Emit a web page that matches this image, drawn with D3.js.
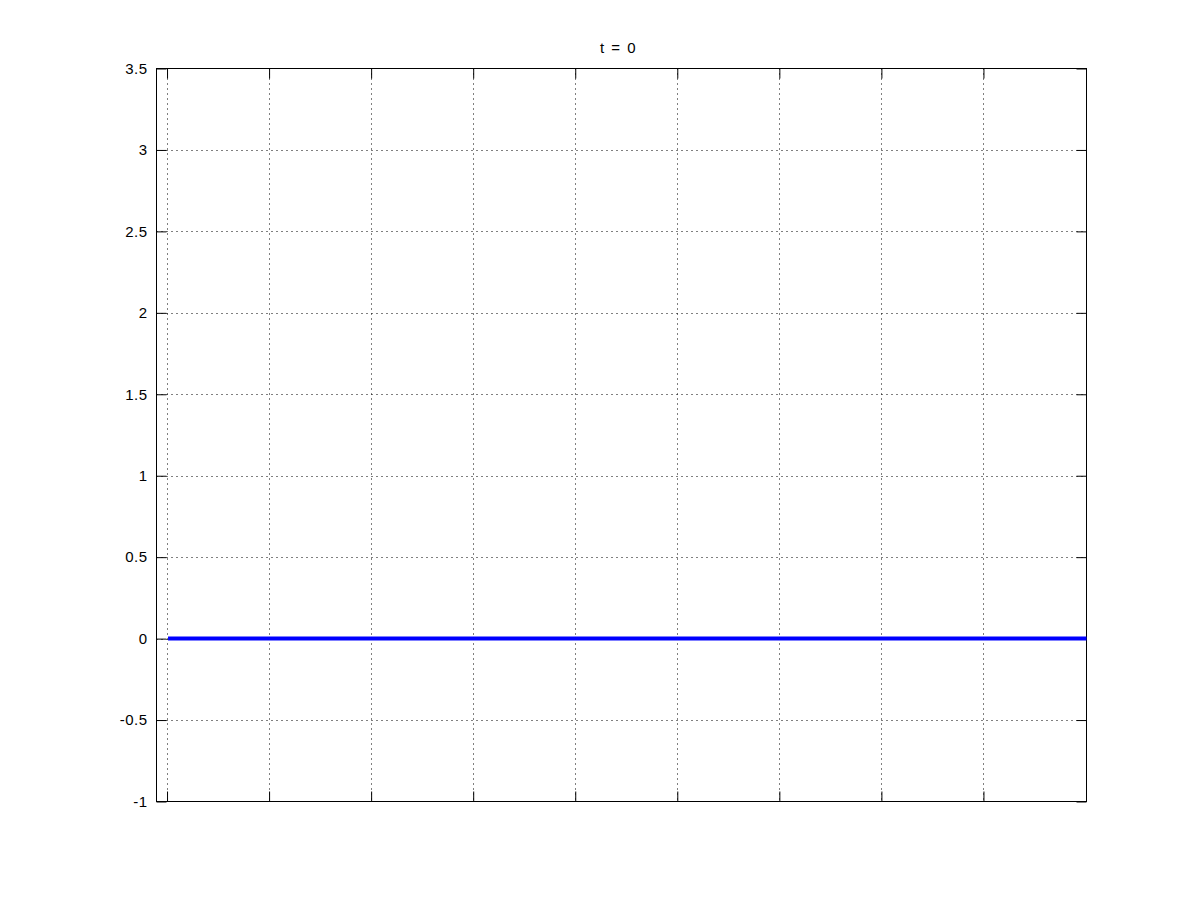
<!DOCTYPE html>
<html><head><meta charset="utf-8">
<script src="https://cdn.jsdelivr.net/npm/d3@7"></script>
<style>body{margin:0;background:#fff}svg{display:block}</style>
</head><body>
<script>
const titleText = "t = 0";
const xTicks = [0,1,2,3,4,5,6,7,8];
const yTicks = [-1,-0.5,0,0.5,1,1.5,2,2.5,3,3.5];
const xs = [0,1,2,3,4,5,6,7,8,9];
const ys = [0,0,0,0,0,0,0,0,0,0];

const W=1200,H=900;
const L=156.5,R=1086.5,T=68.5,B=801.5;
const svg=d3.select("body").append("svg").attr("width",W).attr("height",H);
const x=d3.scaleLinear().domain([-0.113,9]).range([L,R]);
const y=d3.scaleLinear().domain([-1,3.5]).range([B,T]);
const font="'Liberation Sans', Arial, sans-serif";

// grid
const g=svg.append("g");
g.selectAll(".vg").data(xTicks).join("line")
 .attr("x1",d=>Math.round(x(d))-0.5).attr("x2",d=>Math.round(x(d))-0.5)
 .attr("y1",T).attr("y2",B).attr("stroke","#000").attr("stroke-width",1).attr("stroke-dasharray","1,4");
g.selectAll(".hg").data(yTicks.filter(d=>d>-1&&d<3.5)).join("line")
 .attr("y1",d=>Math.round(y(d))+0.5).attr("y2",d=>Math.round(y(d))+0.5)
 .attr("x1",L).attr("x2",R).attr("stroke","#000").attr("stroke-width",1).attr("stroke-dasharray","1,4");

// axes via d3
const ax=svg.append("g").attr("font-family",font);
const yl=d3.axisLeft(y).tickValues(yTicks).tickSize(-10).tickPadding(9).tickFormat(d=>String(d));
const yr=d3.axisRight(y).tickValues(yTicks).tickSize(-10).tickFormat("");
const xb=d3.axisBottom(x).tickValues(xTicks).tickSize(-10).tickFormat("").offset(-0.5);
const xt=d3.axisTop(x).tickValues(xTicks).tickSize(-10).tickFormat("").offset(-0.5);
ax.append("g").attr("transform",`translate(${L},0)`).call(yl);
ax.append("g").attr("transform",`translate(${R},0)`).call(yr);
ax.append("g").attr("transform",`translate(0,${B})`).call(xb);
ax.append("g").attr("transform",`translate(0,${T})`).call(xt);
ax.selectAll(".domain").remove();
ax.selectAll(".tick line").attr("stroke","#000").attr("stroke-width",1);
ax.selectAll(".tick text").attr("fill","#000").attr("font-size",15).attr("letter-spacing",0.5).attr("font-family",font);
svg.append("rect").attr("x",L).attr("y",T).attr("width",R-L).attr("height",B-T)
 .attr("fill","none").attr("stroke","#000").attr("stroke-width",1);

// data line
svg.append("path").datum(xs.map((d,i)=>[d,ys[i]]))
 .attr("d",d3.line().x(d=>x(d[0])).y(d=>y(d[1])))
 .attr("fill","none").attr("stroke","#0000ff").attr("stroke-width",4);

svg.append("text").attr("x",(L+R)/2-3).attr("y",53).attr("text-anchor","middle")
 .attr("font-family",font).attr("font-size",15).attr("letter-spacing",1.5).text(titleText);
</script>
</body></html>
